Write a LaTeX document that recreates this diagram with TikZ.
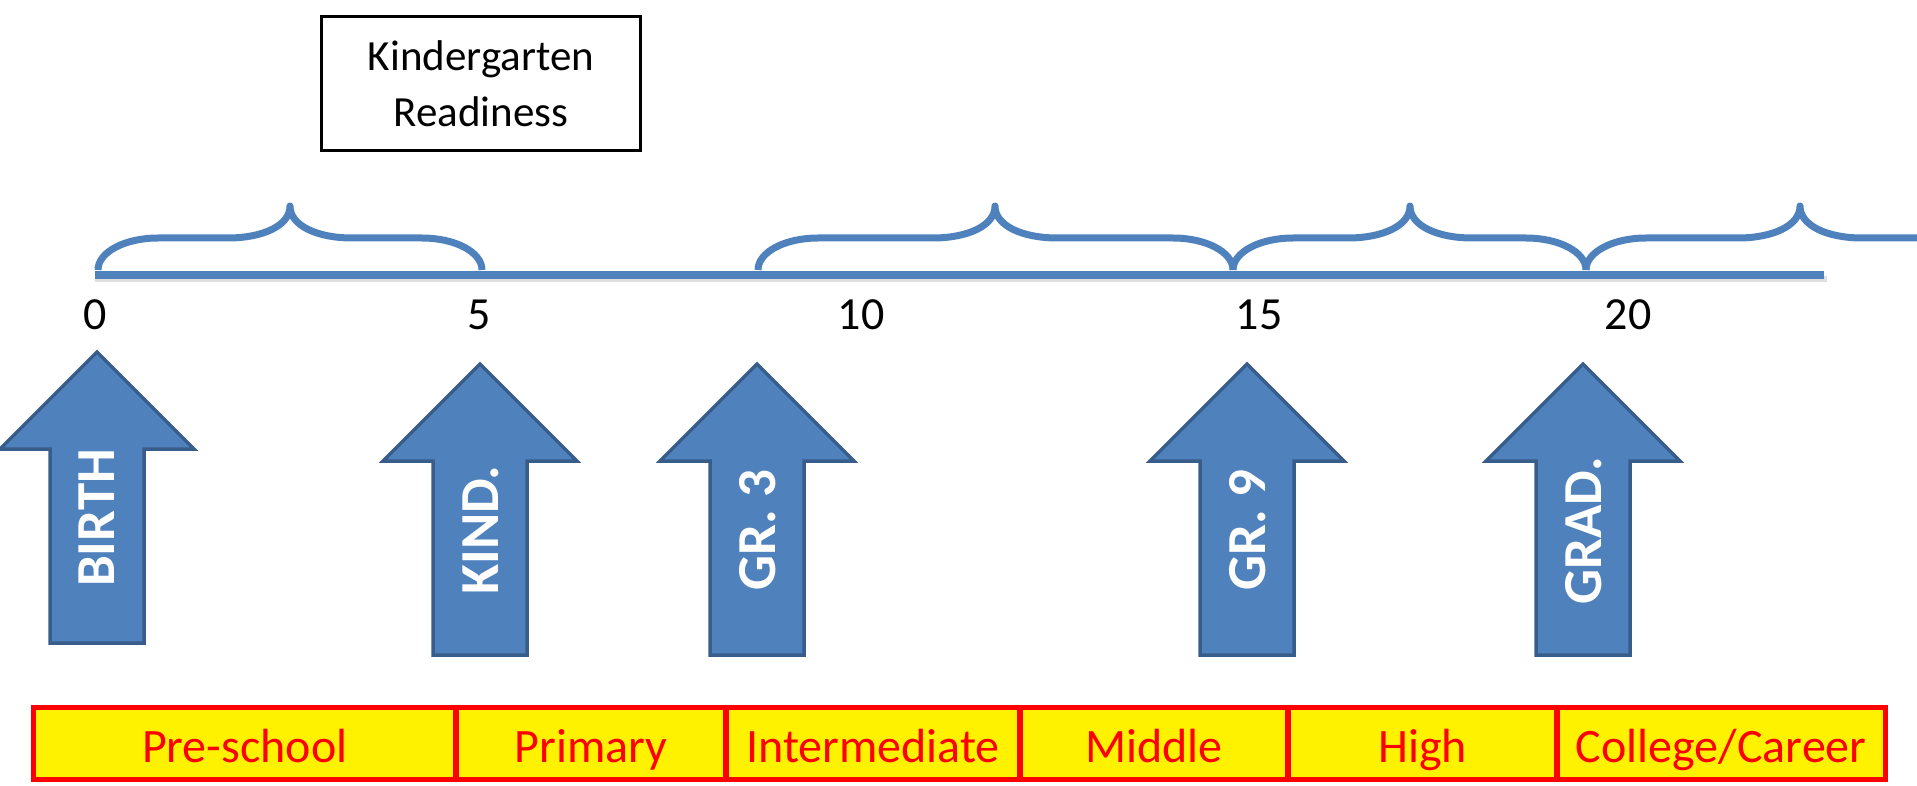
\documentclass[tikz,border=0pt]{standalone}
\usepackage{fontspec}
\setmainfont{Carlito}
\definecolor{tlblue}{HTML}{4F81BD}
\definecolor{arrborder}{HTML}{385D8A}
\newcommand\tlbrace[3]{%
  \draw[bracestyle] (#1,270) .. controls (#1,252) and ({#1+27},238) .. ({#1+60},238)
    -- ({#2-62},238) .. controls ({#2-28},238) and (#2,226) .. (#2,206)
    .. controls (#2,226) and ({#2+28},238) .. ({#2+62},238)
    -- ({#3-60},238) .. controls ({#3-27},238) and (#3,252) .. (#3,270);}
\newcommand\schoolarrow[2]{%
  \draw[arrowshape] (#1,#2) -- ({#1+97},{#2+97}) -- ({#1+47},{#2+97}) -- ({#1+47},{#2+291})
    -- ({#1-47},{#2+291}) -- ({#1-47},{#2+97}) -- ({#1-97},{#2+97}) -- cycle;}
\begin{document}
\begin{tikzpicture}[x=1pt,y=-1pt,
  bracestyle/.style={draw=tlblue, line width=7pt, line join=round, line cap=butt},
  timeline/.style={draw=tlblue, line width=8pt},
  arrowshape/.style={draw=arrborder, fill=tlblue, line width=3.5pt, line join=miter},
  arrowtext/.style={rotate=90, text=white, font=\fontsize{55}{55}\selectfont\bfseries, inner sep=0pt},
  numlabel/.style={anchor=base, font=\fontsize{46}{46}\selectfont, inner sep=0pt},
  cell/.style={draw=red, fill=yellow, line width=5.5pt, minimum height=72pt, inner sep=0pt,
    text=red, font=\fontsize{48}{48}\selectfont, text height=38pt, text depth=0pt},
  kbox/.style={draw=black, line width=3pt, minimum width=319pt, minimum height=134pt,
    align=center, font=\fontsize{43}{56}\selectfont, inner sep=0pt}]
\useasboundingbox (0,0) rectangle (1917,786);
\begin{scope}
\clip (0,0) rectangle (1917,786);
% Kindergarten Readiness box
\node[kbox] (kr) at (481,83.5) {Kindergarten\\Readiness};
% timeline
\coordinate (tl0) at (95,275);
\coordinate (tl1) at (1824,275);
\draw[black!25, opacity=0.5, line width=6pt] ([yshift=-4pt]tl0) -- ([xshift=3pt,yshift=-4pt]tl1);
\draw[timeline] (tl0) -- (tl1);
% braces
\tlbrace{98}{290}{482}
\tlbrace{758}{995}{1233}
\tlbrace{1233}{1410}{1586}
\tlbrace{1586}{1800}{2014}
% numbers
\node[numlabel] (n0) at (95,330) {0};
\node[numlabel] (n5) at (479,330) {5};
\node[numlabel] (n10) at (861,330) {10};
\node[numlabel] (n15) at (1259,330) {15};
\node[numlabel] (n20) at (1628,330) {20};
% arrows
\schoolarrow{97}{352}
\schoolarrow{480}{364}
\schoolarrow{757}{364}
\schoolarrow{1247}{364}
\schoolarrow{1583}{364}
\node[arrowtext] (tbirth) at (97,518) {BIRTH};
\node[arrowtext] (tkind) at (481,530) {KIND.};
\node[arrowtext] (tgr3) at (758,530) {GR. 3};
\node[arrowtext] (tgr9) at (1248,530) {GR. 9};
\node[arrowtext] (tgrad) at (1584,531) {GRAD.};
% bottom bar
\node[cell, minimum width=422.5pt] (c1) at (244.75,743.5) {Pre-school};
\node[cell, minimum width=270pt] (c2) at (591,743.5) {Primary};
\node[cell, minimum width=294pt] (c3) at (873,743.5) {Intermediate};
\node[cell, minimum width=268pt] (c4) at (1154,743.5) {Middle};
\node[cell, minimum width=269pt] (c5) at (1422.5,743.5) {High};
\node[cell, minimum width=328.5pt] (c6) at (1721.25,743.5) {College/Career};
\end{scope}
\end{tikzpicture}
\end{document}
